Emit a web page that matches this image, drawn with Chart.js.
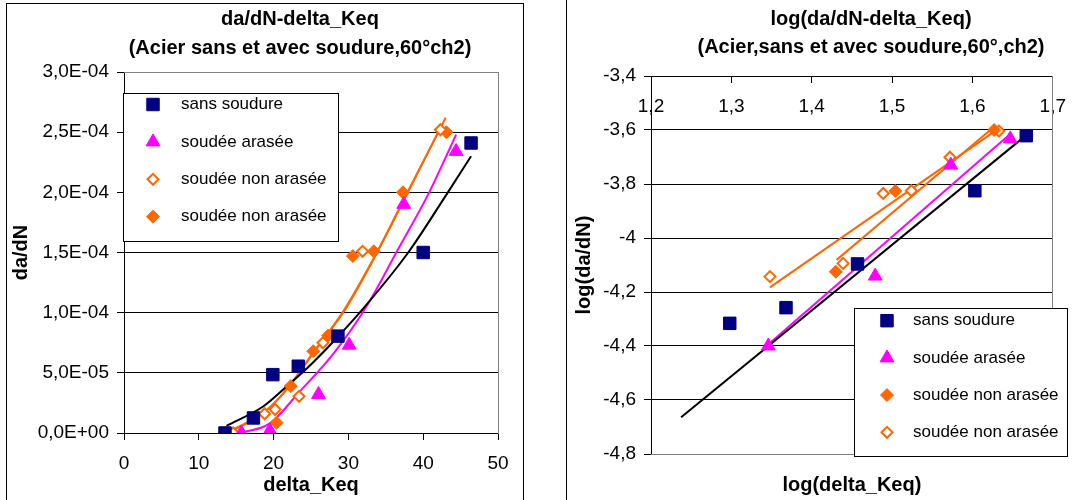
<!DOCTYPE html>
<html lang="fr">
<head>
<meta charset="utf-8">
<title>da/dN - delta_Keq</title>
<script src="https://cdn.jsdelivr.net/npm/chart.js@4.4.1/dist/chart.umd.min.js"></script>
<style>
  html, body { margin: 0; padding: 0; background: #fff; }
  body { width: 1079px; height: 500px; overflow: hidden; position: relative; }
  .frame { position: absolute; border: 1px solid #000; box-sizing: border-box; }
  #frameLeft { left: 6px; top: 3px; width: 518px; height: 600px; }
  #frameRight { left: 566px; top: -10px; width: 600px; height: 620px; }
  canvas { position: absolute; top: 0; }
  #chartLeft { left: 0; }
  #chartRight { left: 540px; }
</style>
</head>
<body>
<div class="frame" id="frameLeft"></div>
<div class="frame" id="frameRight"></div>
<canvas id="chartLeft" width="540" height="500"></canvas>
<canvas id="chartRight" width="539" height="500"></canvas>
<script>
// ---- left chart: da/dN against delta_Keq ----
const titleLeft = ['da/dN-delta_Keq', '(Acier sans et avec soudure,60°ch2)'];

const sansK = [13.5, 17.3, 19.9, 23.3, 28.6, 40.0, 46.4];
const sansV = [0, 1.25e-5, 4.85e-5, 5.55e-5, 8.05e-5, 1.5e-4, 2.41e-4];
const araseeK = [15.7, 19.5, 26.0, 30.1, 37.4, 44.4];
const araseeV = [0, 0.2e-5, 3.2e-5, 7.3e-5, 1.9e-4, 2.34e-4];
const videK = [14.6, 18.8, 20.2, 23.4, 26.6, 31.9, 42.3];
const videV = [0, 1.6e-5, 1.95e-5, 3.05e-5, 7.5e-5, 1.51e-4, 2.52e-4];
const pleinK = [13.5, 20.4, 22.3, 25.3, 27.3, 30.6, 33.4, 37.3, 43.1];
const pleinV = [0, 0.85e-5, 3.9e-5, 6.8e-5, 8.1e-5, 1.47e-4, 1.51e-4, 2.0e-4, 2.5e-4];

// trend curves as seen on the chart
const curveSansK = [13.7, 18.6, 21.7, 25.0, 28.6, 32.2, 38.0, 43.3, 46.4];
const curveSansV = [0.6e-5, 2.2e-5, 3.85e-5, 5.7e-5, 8.0e-5, 1.05e-4, 1.5e-4, 2.0e-4, 2.3e-4];
const curveAraseeK = [15.6, 19.5, 23.5, 28.0, 32.5, 36.4, 40.8, 44.4];
const curveAraseeV = [0, 0.8e-5, 3.45e-5, 6.6e-5, 1.06e-4, 1.5e-4, 2.0e-4, 2.48e-4];
const curveVideK = [14.3, 18.8, 22.0, 25.6, 29.7, 34.0, 38.1, 42.5];
const curveVideV = [0.1e-5, 1.75e-5, 3.8e-5, 6.9e-5, 1.04e-4, 1.52e-4, 2.02e-4, 2.56e-4];
const curvePleinK = [13.5, 18.6, 21.7, 25.3, 29.4, 33.8, 37.9, 43.0];
const curvePleinV = [0, 1.65e-5, 3.6e-5, 6.7e-5, 1.02e-4, 1.5e-4, 2.0e-4, 2.62e-4];

// ---- right chart: log(da/dN) against log(delta_Keq) ----
const titleRight = ['log(da/dN-delta_Keq)', '(Acier,sans et avec soudure,60°,ch2)'];

const logSansK = [1.298, 1.368, 1.457, 1.603, 1.667];
const logSansV = [-4.316, -4.258, -4.096, -3.825, -3.621];
const logAraseeK = [1.346, 1.479, 1.573, 1.647];
const logAraseeV = [-4.40, -4.141, -3.730, -3.633];
const logPleinK = [1.430, 1.504, 1.627];
const logPleinV = [-4.125, -3.826, -3.600];
const logVideK = [1.348, 1.439, 1.489, 1.524, 1.572, 1.633];
const logVideV = [-4.143, -4.094, -3.835, -3.825, -3.701, -3.604];

const lineSansK = [1.2375, 1.667];
const lineSansV = [-4.664, -3.619];
const lineAraseeK = [1.338, 1.647];
const lineAraseeV = [-4.415, -3.615];
const lineVideK = [1.348, 1.633];
const lineVideV = [-4.183, -3.594];
const linePleinK = [1.431, 1.627];
const linePleinV = [-4.081, -3.588];

const NAVY = '#000080', MAGENTA = '#ff00ff', ORANGE = '#ff6600', GREY = '#808080';
const FONT = '"Liberation Sans", Arial, sans-serif';

Chart.defaults.font.family = FONT;
Chart.defaults.color = '#000';

const pts = (xs, ys) => xs.map((x, i) => ({ x: x, y: ys[i] }));

const MARKERS = {
    square:  { pointStyle: 'rect', pointRadius: 8.8, pointBackgroundColor: NAVY, pointBorderColor: NAVY, pointBorderWidth: 1 },
    triangle:{ pointStyle: 'triangle', pointRadius: 8, pointBackgroundColor: MAGENTA, pointBorderColor: MAGENTA, pointBorderWidth: 1 },
    diamond: { pointStyle: 'rectRot', pointRadius: 6.5, pointBackgroundColor: ORANGE, pointBorderColor: ORANGE, pointBorderWidth: 1 },
    hollow:  { pointStyle: 'rectRot', pointRadius: 5.5, pointBackgroundColor: '#fff', pointBorderColor: ORANGE, pointBorderWidth: 2 }
};

function markers(label, data, kind) {
    return Object.assign({ label: label, data: data, showLine: false, xAxisID: 'x', yAxisID: 'y', order: 1 }, MARKERS[kind]);
}

function trend(data, color, smooth) {
    return {
        label: '', data: data, showLine: true, xAxisID: 'x', yAxisID: 'y', order: 2,
        pointRadius: 0, borderColor: color, borderWidth: 2, fill: false,
        cubicInterpolationMode: smooth ? 'monotone' : 'default'
    };
}

// 3,0E-04 style labels (French decimal comma)
function sciLabel(v) {
    if (Math.abs(v) < 1e-12) return '0,0E+00';
    const e = Math.floor(Math.log10(Math.abs(v)) + 1e-9);
    const m = v / Math.pow(10, e);
    return m.toFixed(1).replace('.', ',') + 'E' + (e < 0 ? '-' : '+') + String(Math.abs(e)).padStart(2, '0');
}
const commaLabel = v => String(Math.round(v * 10) / 10).replace('.', ',');

// two-line bold heading placed like the original
const headings = {
    id: 'headings',
    afterDraw(chart, args, opts) {
        const ctx = chart.ctx;
        ctx.save();
        ctx.font = 'bold 20px ' + FONT;
        ctx.fillStyle = '#000';
        ctx.textAlign = 'center';
        ctx.textBaseline = 'alphabetic';
        opts.lines.forEach((t, i) => ctx.fillText(t, opts.x, opts.baseline + i * opts.gap));
        ctx.restore();
    }
};

// grey plot-area edges (Excel style)
const plotFrame = {
    id: 'plotFrame',
    beforeDatasetsDraw(chart, args, opts) {
        const ctx = chart.ctx;
        const a = chart.chartArea;
        const p = v => Math.round(v - 0.5) + 0.5;
        ctx.save();
        ctx.strokeStyle = GREY;
        ctx.lineWidth = 1;
        ctx.beginPath();
        opts.sides.forEach(s => {
            if (s === 'top') { ctx.moveTo(a.left, p(a.top)); ctx.lineTo(a.right + 1, p(a.top)); }
            if (s === 'right') { ctx.moveTo(p(a.right), a.top); ctx.lineTo(p(a.right), a.bottom + 1); }
            if (s === 'bottom') { ctx.moveTo(a.left, p(a.bottom)); ctx.lineTo(a.right + 1, p(a.bottom)); }
        });
        ctx.stroke();
        ctx.restore();
    }
};

// boxed legend drawn inside the plot
const boxLegend = {
    id: 'boxLegend',
    afterDatasetsDraw(chart, args, opts) {
        const ctx = chart.ctx;
        ctx.save();
        ctx.fillStyle = '#fff';
        ctx.fillRect(opts.left, opts.top, opts.width, opts.height);
        ctx.strokeStyle = '#000';
        ctx.lineWidth = 1;
        ctx.strokeRect(opts.left + 0.5, opts.top + 0.5, opts.width, opts.height);
        ctx.font = '17px ' + FONT;
        ctx.textBaseline = 'middle';
        ctx.textAlign = 'left';
        opts.items.forEach((idx, i) => {
            const ds = chart.data.datasets[idx];
            const y = opts.firstRow + i * opts.rowGap;
            ctx.fillStyle = ds.pointBackgroundColor;
            ctx.strokeStyle = ds.pointBorderColor;
            ctx.lineWidth = ds.pointBorderWidth;
            Chart.helpers.drawPoint(ctx, { pointStyle: ds.pointStyle, radius: ds.pointRadius, borderWidth: ds.pointBorderWidth, rotation: 0 }, opts.markerX, y);
            ctx.fillStyle = '#000';
            ctx.fillText(ds.label, opts.textX, y);
        });
        ctx.restore();
    }
};

const tickFont = { size: 19 };
const axisTitleFont = { size: 20, weight: 'bold' };

new Chart(document.getElementById('chartLeft'), {
    type: 'scatter',
    data: {
        datasets: [
            markers('sans soudure', pts(sansK, sansV), 'square'),
            markers('soudée arasée', pts(araseeK, araseeV), 'triangle'),
            markers('soudée non arasée', pts(videK, videV), 'hollow'),
            markers('soudée non arasée', pts(pleinK, pleinV), 'diamond'),
            trend(pts(curveSansK, curveSansV), '#000', true),
            trend(pts(curveAraseeK, curveAraseeV), MAGENTA, true),
            trend(pts(curveVideK, curveVideV), ORANGE, true),
            trend(pts(curvePleinK, curvePleinV), ORANGE, true)
        ]
    },
    options: {
        responsive: false,
        animation: false,
        events: [],
        layout: { padding: { left: 0, right: 42, top: 72, bottom: 0 } },
        scales: {
            x: {
                type: 'linear', position: 'bottom', min: 0, max: 50,
                afterFit: s => { s.height = 67; },
                ticks: { stepSize: 10, padding: 12, font: tickFont },
                grid: { drawOnChartArea: false, tickLength: 7, color: '#000' },
                border: { color: '#000', width: 1 },
                title: { display: true, text: 'delta_Keq', font: axisTitleFont, padding: { top: 0, bottom: 3 } }
            },
            y: {
                type: 'linear', position: 'left', min: 0, max: 3e-4,
                afterFit: s => { s.width = 124; },
                ticks: { stepSize: 5e-5, padding: 8, font: tickFont, callback: v => sciLabel(v) },
                grid: { color: '#000', tickLength: 7 },
                border: { color: '#000', width: 1 },
                title: { display: true, text: 'da/dN', font: axisTitleFont, padding: { top: 9, bottom: 0 } }
            }
        },
        plugins: {
            legend: { display: false },
            tooltip: { enabled: false },
            headings: { lines: titleLeft, x: 300, baseline: 25, gap: 29 },
            plotFrame: { sides: ['top', 'right'] },
            boxLegend: { left: 123, top: 93, width: 215, height: 148, markerX: 153, textX: 181, firstRow: 104.5, rowGap: 37.4, items: [0, 1, 2, 3] }
        }
    },
    plugins: [headings, plotFrame, boxLegend]
});

new Chart(document.getElementById('chartRight'), {
    type: 'scatter',
    data: {
        datasets: [
            markers('sans soudure', pts(logSansK, logSansV), 'square'),
            markers('soudée arasée', pts(logAraseeK, logAraseeV), 'triangle'),
            markers('soudée non arasée', pts(logPleinK, logPleinV), 'diamond'),
            markers('soudée non arasée', pts(logVideK, logVideV), 'hollow'),
            trend(pts(lineSansK, lineSansV), '#000', false),
            trend(pts(lineAraseeK, lineAraseeV), MAGENTA, false),
            trend(pts(lineVideK, lineVideV), ORANGE, false),
            trend(pts(linePleinK, linePleinV), ORANGE, false)
        ]
    },
    options: {
        responsive: false,
        animation: false,
        events: [],
        layout: { padding: { left: 0, right: 15, top: 76, bottom: 0 } },
        scales: {
            x: {
                type: 'linear', position: { y: -3.4 }, min: 1.2, max: 1.7,
                ticks: { stepSize: 0.1, padding: 13, font: tickFont, callback: v => commaLabel(v) },
                grid: { drawOnChartArea: false, tickLength: 6, color: '#000' },
                border: { color: '#000', width: 1 }
            },
            y: {
                type: 'linear', position: 'left', min: -4.8, max: -3.4,
                afterFit: s => { s.width = 111; },
                ticks: { stepSize: 0.2, padding: 8, font: tickFont, callback: v => commaLabel(v) },
                grid: { color: '#000', tickLength: 7 },
                border: { color: '#000', width: 1 },
                title: { display: true, text: 'log(da/dN)', font: axisTitleFont, padding: { top: 32, bottom: 0 } }
            },
            xb: {
                type: 'linear', position: 'bottom', min: 1.2, max: 1.7,
                afterFit: s => { s.height = 46; },
                ticks: { display: false },
                grid: { display: false },
                border: { display: false },
                title: { display: true, text: 'log(delta_Keq)', font: axisTitleFont, padding: { top: 0, bottom: 3 } }
            }
        },
        plugins: {
            legend: { display: false },
            tooltip: { enabled: false },
            headings: { lines: titleRight, x: 331, baseline: 24.5, gap: 28.5 },
            plotFrame: { sides: ['right', 'bottom'] },
            boxLegend: { left: 314, top: 308, width: 213, height: 148, markerX: 347, textX: 373, firstRow: 320.7, rowGap: 37.2, items: [0, 1, 2, 3] }
        }
    },
    plugins: [headings, plotFrame, boxLegend]
});
</script>
</body>
</html>
